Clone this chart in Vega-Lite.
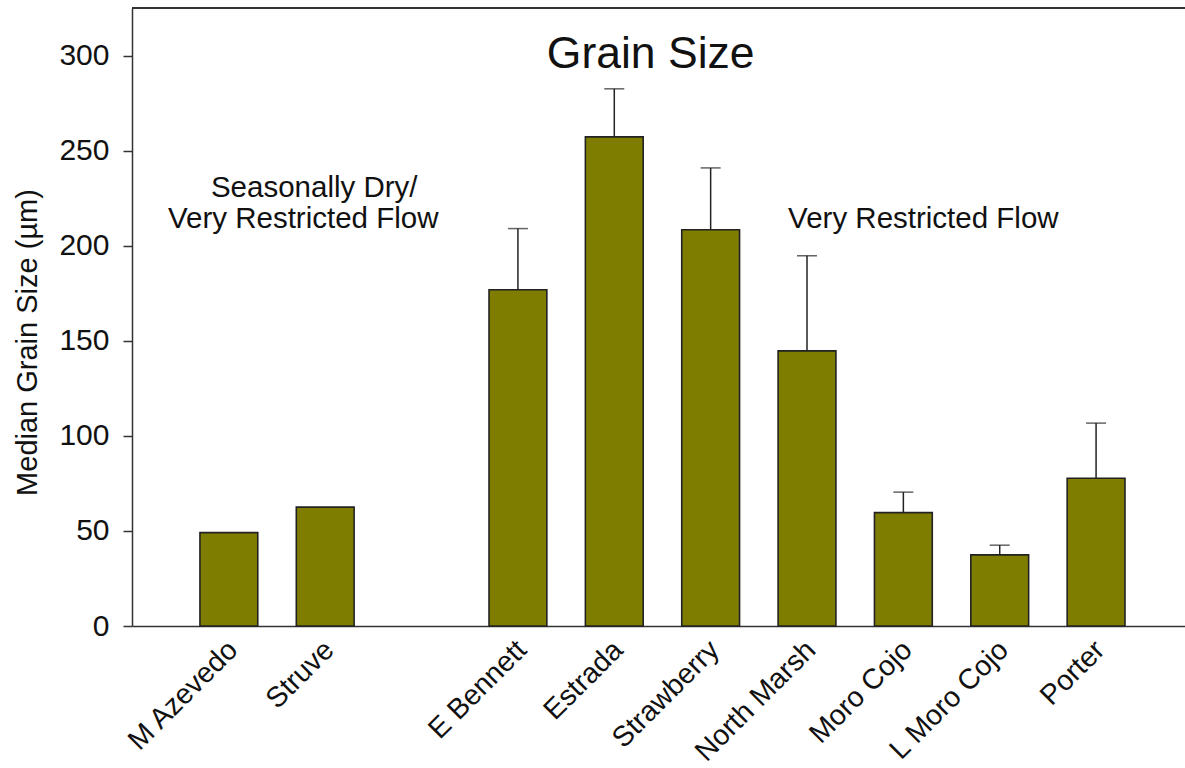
{
  "$schema": "https://vega.github.io/schema/vega-lite/v6.json",
  "autosize": {"type": "none"},
  "padding": {"left": 132, "top": 8, "right": 0, "bottom": 142},
  "width": 1053,
  "height": 618,
  "background": "white",
  "config": {
    "view": {"stroke": null},
    "font": "Liberation Sans",
    "axis": {"grid": false, "domainColor": "#333", "domainWidth": 1.5, "tickColor": "#333", "tickWidth": 1.5, "labelColor": "#111", "titleColor": "#111", "labelFont": "Liberation Sans", "titleFont": "Liberation Sans"}
  },
  "datasets": {
    "sites": [
      {"site": "M Azevedo", "median": 49.1, "upper": null},
      {"site": "Struve", "median": 62.5, "upper": null},
      {"site": "E Bennett", "median": 176.8, "upper": 209},
      {"site": "Estrada", "median": 257.2, "upper": 282.5},
      {"site": "Strawberry", "median": 208.4, "upper": 240.9},
      {"site": "North Marsh", "median": 144.7, "upper": 194.7},
      {"site": "Moro Cojo", "median": 59.6, "upper": 70.4},
      {"site": "L Moro Cojo", "median": 37.4, "upper": 42.5},
      {"site": "Porter", "median": 77.7, "upper": 106.7}
    ]
  },
  "data": {"name": "sites"},
  "encoding": {
    "x": {
      "field": "site", "type": "nominal",
      "scale": {"domain": ["M Azevedo", "Struve", " ", "E Bennett", "Estrada", "Strawberry", "North Marsh", "Moro Cojo", "L Moro Cojo", "Porter"], "paddingInner": 0.4, "paddingOuter": 0.664, "align": 0.531},
      "axis": {"title": null, "labelAngle": -45, "labelFontSize": 28.5, "ticks": false, "labelPadding": 9, "labelOffset": -6}
    }
  },
  "layer": [
    {
      "mark": {"type": "bar", "fill": "#7f7d00", "stroke": "#222", "strokeWidth": 1.6},
      "encoding": {
        "y": {
          "field": "median", "type": "quantitative",
          "scale": {"domain": [0, 325], "nice": false, "zero": true},
          "axis": {"title": "Median Grain Size (µm)", "values": [0, 50, 100, 150, 200, 250, 300], "labelFontSize": 30, "titleFontSize": 29, "titleFontWeight": "normal", "tickSize": 9, "labelPadding": 14, "titlePadding": 16, "titleY": 334}
        }
      }
    },
    {
      "transform": [{"filter": "datum.upper != null"}],
      "mark": {"type": "rule", "stroke": "#222", "strokeWidth": 1.5},
      "encoding": {
        "y": {"field": "median", "type": "quantitative"},
        "y2": {"field": "upper"}
      }
    },
    {
      "transform": [{"filter": "datum.upper != null"}],
      "mark": {"type": "tick", "color": "#222", "thickness": 1.5, "size": 20, "orient": "horizontal"},
      "encoding": {
        "y": {"field": "upper", "type": "quantitative"}
      }
    },
    {
      "mark": {"type": "rule", "stroke": "#333", "strokeWidth": 1.5},
      "encoding": {"y": {"datum": 325, "type": "quantitative"}, "x": null}
    },
    {
      "data": {"values": [{"site": "Strawberry", "y": 293.4, "text": "Grain Size"}]},
      "mark": {"type": "text", "fontSize": 44.5, "dx": -60, "baseline": "alphabetic", "color": "#111"},
      "encoding": {"y": {"field": "y", "type": "quantitative"}, "text": {"field": "text"}}
    },
    {
      "data": {"values": [{"site": "Struve", "y": 225.6, "text": "Seasonally Dry/"}]},
      "mark": {"type": "text", "fontSize": 29.5, "dx": -11, "baseline": "alphabetic", "color": "#111"},
      "encoding": {"y": {"field": "y", "type": "quantitative"}, "text": {"field": "text"}}
    },
    {
      "data": {"values": [{"site": "Struve", "y": 209.3, "text": "Very Restricted Flow"}]},
      "mark": {"type": "text", "fontSize": 29.5, "dx": -22, "baseline": "alphabetic", "color": "#111"},
      "encoding": {"y": {"field": "y", "type": "quantitative"}, "text": {"field": "text"}}
    },
    {
      "data": {"values": [{"site": "Moro Cojo", "y": 209.3, "text": "Very Restricted Flow"}]},
      "mark": {"type": "text", "fontSize": 29.5, "dx": 20, "baseline": "alphabetic", "color": "#111"},
      "encoding": {"y": {"field": "y", "type": "quantitative"}, "text": {"field": "text"}}
    }
  ]
}
